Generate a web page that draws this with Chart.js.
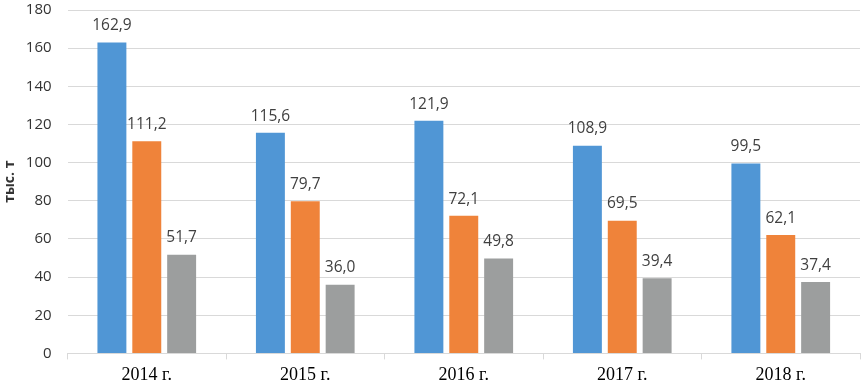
<!DOCTYPE html>
<html>
<head>
<meta charset="utf-8">
<script src="https://cdn.jsdelivr.net/npm/chart.js@4.4.1/dist/chart.umd.min.js"></script>
<style>
  html, body { margin: 0; padding: 0; background: #fff; }
  #wrap { width: 864px; height: 383px; position: relative; }
</style>
</head>
<body>
<div id="wrap"><canvas id="js-chart-bars"></canvas></div>
<script>
// Chart data
const categories = ['2014 г.', '2015 г.', '2016 г.', '2017 г.', '2018 г.'];
const seriesBlue = [162.9, 115.6, 121.9, 108.9, 99.5];
const seriesOrange = [111.2, 79.7, 72.1, 69.5, 62.1];
const seriesGray = [51.7, 36.0, 49.8, 39.4, 37.4];
const yTicks = [0, 20, 40, 60, 80, 100, 120, 140, 160, 180];

// Draw value labels above bars (comma decimal)
const barValueLabels = {
  id: 'barValueLabels',
  afterDatasetsDraw(chart) {
    const ctx = chart.ctx;
    ctx.save();
    ctx.font = '15.5px "Open Sans", sans-serif';
    ctx.fillStyle = '#404040';
    ctx.textAlign = 'center';
    ctx.textBaseline = 'bottom';
    chart.data.datasets.forEach((ds, i) => {
      chart.getDatasetMeta(i).data.forEach((bar, j) => {
        const txt = ds.data[j].toFixed(1).replace('.', ',');
        ctx.fillText(txt, bar.x, bar.y - 9);
      });
    });
    ctx.restore();
  }
};

let barsCon = document.getElementById('js-chart-bars');

let barsData = {
  labels: categories,
  datasets: [
    { label: 'A', data: seriesBlue, backgroundColor: '#5096d5' },
    { label: 'B', data: seriesOrange, backgroundColor: '#ef833a' },
    { label: 'C', data: seriesGray, backgroundColor: '#9c9e9e' }
  ]
};

let barsOptions = {
  responsive: true,
  maintainAspectRatio: false,
  animation: false,
  layout: { padding: { top: 0, right: 4, left: 0, bottom: -8 } },
  datasets: {
    bar: { categoryPercentage: 0.66, barPercentage: 0.83 }
  },
  plugins: {
    legend: { display: false },
    tooltip: { enabled: false }
  },
  scales: {
    x: {
      grid: {
        offset: true,
        drawOnChartArea: false,
        color: '#d9d9d9',
        tickLength: 6
      },
      border: { color: '#d9d9d9' },
      ticks: {
        color: '#000',
        font: { family: '"Liberation Serif", serif', size: 18 },
        padding: 5
      }
    },
    y: {
      min: 0,
      max: 180,
      afterBuildTicks: (axis) => { axis.ticks = yTicks.map(v => ({ value: v })); },
      // invisible tick marks give the gap between labels and plot
      grid: { color: '#d9d9d9', tickColor: 'rgba(0,0,0,0)', tickLength: 15 },
      border: { display: false },
      ticks: {
        color: '#333',
        font: { family: '"Open Sans", sans-serif', size: 15 },
        padding: 1
      },
      title: {
        display: true,
        text: 'тыс. т',
        color: '#333',
        font: { family: '"Open Sans", sans-serif', size: 14, weight: 'bold' },
        padding: { top: 2, bottom: 6 }
      }
    }
  }
};

new Chart(barsCon, { type: 'bar', data: barsData, options: barsOptions, plugins: [barValueLabels] });
</script>
</body>
</html>
